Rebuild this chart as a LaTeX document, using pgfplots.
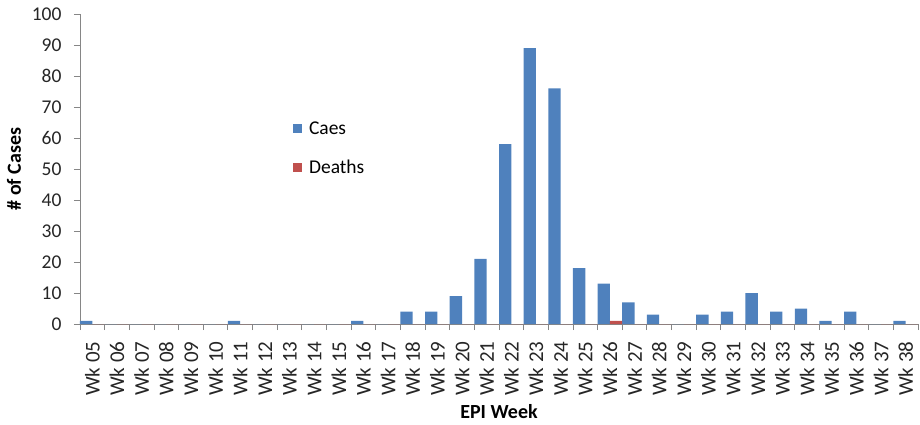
\documentclass[border=0pt]{standalone}
\usepackage{fontspec}
\setmainfont{Carlito}
\usepackage{pgfplots}
\pgfplotsset{compat=1.18}
\definecolor{cblue}{HTML}{4F81BD}
\definecolor{cred}{HTML}{C0504D}
\definecolor{axgray}{HTML}{868686}
\begin{document}
\begin{tikzpicture}
\begin{axis}[
  scale only axis,
  width=838pt, height=310pt,
  xmin=-0.5, xmax=33.5,
  ymin=0, ymax=100,
  axis x line=bottom, axis y line=left,
  axis line style={draw=axgray, line width=0.8pt, -},
  ytick={0,10,...,100},
  xtick={0,...,33},
  xticklabels={Wk 05,Wk 06,Wk 07,Wk 08,Wk 09,Wk 10,Wk 11,Wk 12,Wk 13,Wk 14,Wk 15,Wk 16,Wk 17,Wk 18,Wk 19,Wk 20,Wk 21,Wk 22,Wk 23,Wk 24,Wk 25,Wk 26,Wk 27,Wk 28,Wk 29,Wk 30,Wk 31,Wk 32,Wk 33,Wk 34,Wk 35,Wk 36,Wk 37,Wk 38},
  minor xtick={-0.5,0.5,...,33.5},
  tick align=outside,
  major tick length=6pt,
  minor tick length=6pt,
  major x tick style={draw=none},
  every tick/.style={draw=axgray, line width=0.8pt},
  minor x tick style={draw=axgray, line width=0.8pt},
  /pgf/number format/assume math mode=true,
  tick label style={font=\fontsize{19.5}{20}\selectfont, text=black!85},
  x tick label style={rotate=90, anchor=east, xshift=-8pt, font=\fontsize{21}{22}\selectfont},
  y tick label style={xshift=-9pt},
  ylabel={\textbf{\# of Cases}},
  xlabel={\textbf{EPI Week}},
  label style={font=\fontsize{20}{22}\selectfont},
  ylabel style={yshift=4pt},
  xlabel style={yshift=-2pt},
  ybar=0pt,
  bar width=0.5,
  legend style={draw=none, fill=none, at={(0.254,0.659)}, anchor=north west,
    font=\fontsize{19.5}{20}\selectfont, row sep=20pt, inner sep=0pt,
    legend cell align=left},
  legend image code/.code={\fill[#1] (0pt,-4.5pt) rectangle (9pt,4.5pt);},
]
\addplot[fill=cblue, draw=none, bar shift=-0.25] coordinates {
(0,1) (1,0) (2,0) (3,0) (4,0) (5,0) (6,1) (7,0) (8,0) (9,0) (10,0) (11,1) (12,0)
(13,4) (14,4) (15,9) (16,21) (17,58) (18,89) (19,76) (20,18) (21,13) (22,7) (23,3)
(24,0) (25,3) (26,4) (27,10) (28,4) (29,5) (30,1) (31,4) (32,0) (33,1)};
\addlegendentry{\hspace{5pt}Caes}
\addplot[fill=cred, draw=none, bar shift=0.25] coordinates {
(0,0) (1,0) (2,0) (3,0) (4,0) (5,0) (6,0) (7,0) (8,0) (9,0) (10,0) (11,0) (12,0)
(13,0) (14,0) (15,0) (16,0) (17,0) (18,0) (19,0) (20,0) (21,1) (22,0) (23,0)
(24,0) (25,0) (26,0) (27,0) (28,0) (29,0) (30,0) (31,0) (32,0) (33,0)};
\addlegendentry{\hspace{5pt}Deaths}
\end{axis}
\pgfresetboundingbox
\path (-80pt,-100pt) rectangle (840pt,324pt);
\end{tikzpicture}
\end{document}
